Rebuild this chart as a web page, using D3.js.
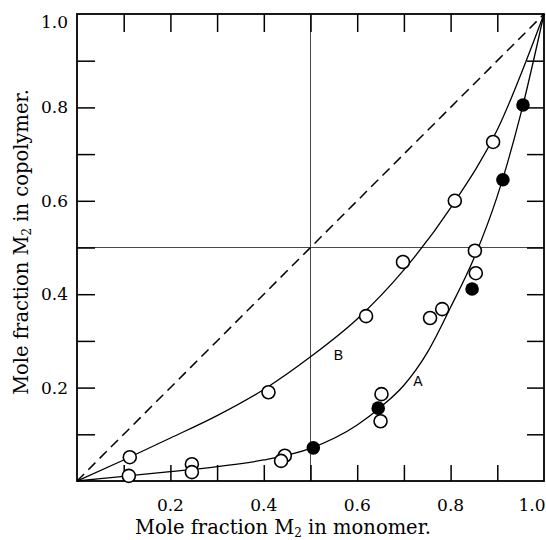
<!DOCTYPE html>
<html><head><meta charset="utf-8">
<script src="https://cdn.jsdelivr.net/npm/d3@7"></script>
<style>body{margin:0;background:#fff}</style>
</head><body>
<svg id="c" width="546" height="540"></svg>
<script>
const ticks = [0.1,0.2,0.3,0.4,0.5,0.6,0.7,0.8,0.9];
const labelTicks = [0.2,0.4,0.6,0.8,1.0];
const curveB = [[0,0],[0.1,0.045],[0.2,0.092],[0.3,0.14],[0.4,0.196],[0.5,0.266],[0.6,0.347],[0.7,0.452],[0.8,0.585],[0.9,0.752],[1,1]];
const curveA = [[0,0],[0.1,0.01],[0.2,0.02],[0.3,0.031],[0.4,0.045],[0.5,0.07],[0.6,0.12],[0.65,0.158],[0.7,0.205],[0.75,0.275],[0.8,0.372],[0.85,0.477],[0.9,0.61],[0.95,0.785],[1,1]];
const openB = [[0.113,0.051],[0.41,0.19],[0.619,0.353],[0.698,0.469],[0.809,0.60],[0.891,0.726]];
const openA = [[0.111,0.011],[0.246,0.036],[0.246,0.019],[0.445,0.054],[0.437,0.043],[0.652,0.186],[0.65,0.128],[0.756,0.349],[0.782,0.368],[0.854,0.445],[0.852,0.493]];
const filledA = [[0.506,0.071],[0.645,0.156],[0.846,0.411],[0.912,0.645],[0.955,0.805]];
const curveLabels = [{t:"B",x:0.56,y:0.27},{t:"A",x:0.73,y:0.214}];

const svg = d3.select("#c");
const x = d3.scaleLinear().domain([0,1]).range([77,544]);
const y = d3.scaleLinear().domain([0,1]).range([481,14]);
const serif = "'DejaVu Serif','Liberation Serif',serif";

// crosshair
svg.append("line").attr("x1",x(0.5)).attr("x2",x(0.5)).attr("y1",y(0)).attr("y2",y(1)).attr("stroke","#333").attr("stroke-width",0.9);
svg.append("line").attr("x1",x(0)).attr("x2",x(1)).attr("y1",y(0.5)).attr("y2",y(0.5)).attr("stroke","#333").attr("stroke-width",0.9);
// diagonal
svg.append("line").attr("x1",x(0)).attr("y1",y(0)).attr("x2",x(1)).attr("y2",y(1)).attr("stroke","#000").attr("stroke-width",1.5).attr("stroke-dasharray","10,6");

// axes with inward ticks
const axBottom = d3.axisBottom(x).tickValues(ticks).tickSize(-16).tickFormat("");
const axTop = d3.axisTop(x).tickValues(ticks).tickSize(-18).tickFormat("");
const axLeft = d3.axisLeft(y).tickValues(ticks).tickSize(-18).tickFormat("");
const axRight = d3.axisRight(y).tickValues(ticks).tickSize(-17).tickFormat("");
function styleAx(g){ g.select(".domain").remove(); g.selectAll(".tick line").attr("stroke","#000").attr("stroke-width",1.5); }
svg.append("g").attr("transform",`translate(0,${y(0)})`).call(axBottom).call(styleAx);
svg.append("g").attr("transform",`translate(0,${y(1)})`).call(axTop).call(styleAx);
svg.append("g").attr("transform",`translate(${x(0)},0)`).call(axLeft).call(styleAx);
svg.append("g").attr("transform",`translate(${x(1)},0)`).call(axRight).call(styleAx);
svg.append("rect").attr("x",x(0)).attr("y",y(1)).attr("width",x(1)-x(0)).attr("height",y(0)-y(1)).attr("fill","none").attr("stroke","#000").attr("stroke-width",1.8);

// tick labels
svg.selectAll(".xl").data(labelTicks).enter().append("text")
  .attr("x",d=>d===1?x(d)-12:x(d)).attr("y",511).attr("text-anchor","middle")
  .attr("font-family",serif).attr("font-size",17).text(d=>d.toFixed(1));
svg.selectAll(".yl").data(labelTicks).enter().append("text")
  .attr("x",68).attr("y",d=>d===1?y(d)+14:y(d)+6).attr("text-anchor","end")
  .attr("font-family",serif).attr("font-size",17).text(d=>d.toFixed(1));

// axis titles
const xt = svg.append("text").attr("x",283).attr("y",534).attr("text-anchor","middle").attr("font-family",serif).attr("font-size",19.5);
xt.append("tspan").text("Mole fraction M");
xt.append("tspan").attr("font-size",12).attr("dy",3).text("2");
xt.append("tspan").attr("dy",-3).text(" in monomer.");
const yt = svg.append("text").attr("transform","translate(28,242) rotate(-90)").attr("text-anchor","middle").attr("font-family",serif).attr("font-size",19.5);
yt.append("tspan").text("Mole fraction M");
yt.append("tspan").attr("font-size",12).attr("dy",3).text("2");
yt.append("tspan").attr("dy",-3).text(" in copolymer.");

// curves
const line = d3.line().x(d=>x(d[0])).y(d=>y(d[1])).curve(d3.curveMonotoneX);
svg.append("path").attr("d",line(curveB)).attr("fill","none").attr("stroke","#000").attr("stroke-width",1.3);
svg.append("path").attr("d",line(curveA)).attr("fill","none").attr("stroke","#000").attr("stroke-width",1.3);

// points
svg.selectAll(".ob").data(openB.concat(openA)).enter().append("circle")
  .attr("cx",d=>x(d[0])).attr("cy",d=>y(d[1])).attr("r",6.5)
  .attr("fill","#fff").attr("stroke","#000").attr("stroke-width",1.6);
svg.selectAll(".fa").data(filledA).enter().append("circle")
  .attr("cx",d=>x(d[0])).attr("cy",d=>y(d[1])).attr("r",6.8).attr("fill","#000");

svg.selectAll(".cl").data(curveLabels).enter().append("text")
  .attr("x",d=>x(d.x)).attr("y",d=>y(d.y)+5).attr("text-anchor","middle")
  .attr("font-family","'Liberation Sans',Arial,sans-serif").attr("font-size",14).text(d=>d.t);
</script>
</body></html>
